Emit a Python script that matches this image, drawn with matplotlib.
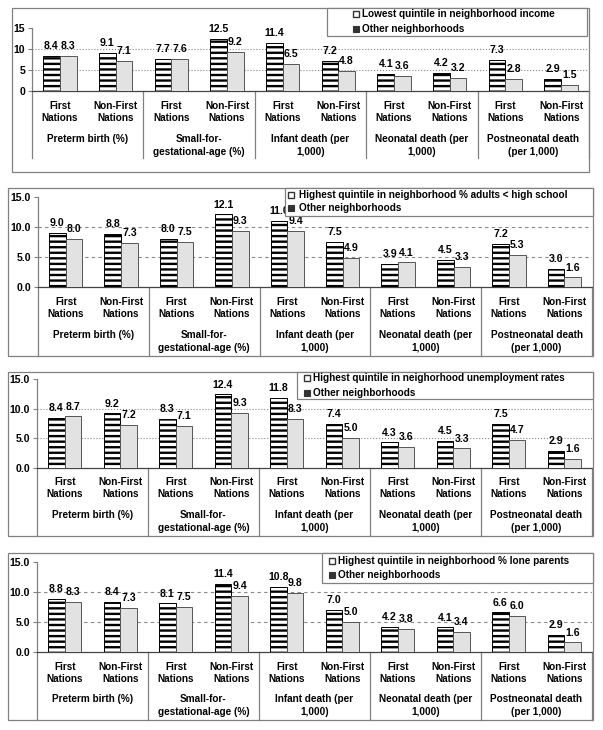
import matplotlib
matplotlib.use("Agg")
import matplotlib.pyplot as plt
import matplotlib.transforms as mtransforms
from matplotlib.patches import Rectangle

# ---- data ----
groups = ["Preterm birth (%)", "Small-for-\ngestational-age (%)",
          "Infant death (per\n1,000)", "Neonatal death (per\n1,000)",
          "Postneonatal death\n(per 1,000)"]
subgroups = ["First\nNations", "Non-First\nNations"]
other_label = "Other neighborhoods"

income_label = "Lowest quintile in neighborhood income"
income_low = [8.4, 9.1, 7.7, 12.5, 11.4, 7.2, 4.1, 4.2, 7.3, 2.9]
income_other = [8.3, 7.1, 7.6, 9.2, 6.5, 4.8, 3.6, 3.2, 2.8, 1.5]

school_label = "Highest quintile in neighborhood % adults < high school"
school_high = [9.0, 8.8, 8.0, 12.1, 11.0, 7.5, 3.9, 4.5, 7.2, 3.0]
school_other = [8.0, 7.3, 7.5, 9.3, 9.4, 4.9, 4.1, 3.3, 5.3, 1.6]

unemp_label = "Highest quintile in neighorhood unemployment rates"
unemp_high = [8.4, 9.2, 8.3, 12.4, 11.8, 7.4, 4.3, 4.5, 7.5, 2.9]
unemp_other = [8.7, 7.2, 7.1, 9.3, 8.3, 5.0, 3.6, 3.3, 4.7, 1.6]

lone_label = "Highest quintile in neighborhood % lone parents"
lone_high = [8.8, 8.4, 8.1, 11.4, 10.8, 7.0, 4.2, 4.1, 6.6, 2.9]
lone_other = [8.3, 7.3, 7.5, 9.4, 9.8, 5.0, 3.8, 3.4, 6.0, 1.6]

yticks = [0, 5, 10, 15]

W, H = 603, 730
plt.rcParams['font.family'] = ['Liberation Sans', 'DejaVu Sans']
plt.rcParams['font.weight'] = 'bold'
plt.rcParams['hatch.linewidth'] = 1.7

fig = plt.figure(figsize=(W / 100, H / 100), dpi=100)


def fx(px):
    return px / W


def fy(py):
    return 1 - py / H


# layout in pixels: frame, axes (x0, x1, y15, y0), tick text y, group text y,
# separator bottom, legend box, legend rows, icon x, text x, grid style, tick fmt
panels = [
    dict(high=income_low, other=income_other, label=income_label,
         frame=(12, 8, 589, 172), ax=(32, 589, 28, 91), tick_y=112, grp_y=134,
         sep_bot=158, leg=(327, 8, 587, 36), rows=(14, 29), icon_x=353, text_x=362,
         grid=':', fmt='{:.0f}'),
    dict(high=school_high, other=school_other, label=school_label,
         frame=(8, 188, 593, 356), ax=(38, 592, 197, 287), tick_y=308, grp_y=330,
         sep_bot=356, leg=(285, 188, 593, 216), rows=(195, 208), icon_x=288, text_x=299,
         grid=(0, (3, 3)), fmt='{:.1f}'),
    dict(high=unemp_high, other=unemp_other, label=unemp_label,
         frame=(8, 372, 593, 536), ax=(37, 592, 379, 468), tick_y=488, grp_y=510,
         sep_bot=536, leg=(297, 372, 593, 399), rows=(378, 393), icon_x=304, text_x=313,
         grid=':', fmt='{:.1f}'),
    dict(high=lone_high, other=lone_other, label=lone_label,
         frame=(8, 553, 593, 720), ax=(37, 592, 562, 652), tick_y=673, grp_y=694,
         sep_bot=720, leg=(322, 553, 593, 583), rows=(561, 575), icon_x=329, text_x=338,
         grid=(0, (3, 3)), fmt='{:.1f}'),
]

n = len(groups) * len(subgroups)
slots = [i + 0.5 for i in range(n)]
bw = 0.3

for p in panels:
    # outer frame
    fx0, fy0, fx1, fy1 = p['frame']
    fig.patches.append(Rectangle((fx(fx0), fy(fy1)), fx(fx1 - fx0), (fy1 - fy0) / H,
                                 transform=fig.transFigure, facecolor='none',
                                 edgecolor='#808080', lw=0.9, zorder=5))

    x0, x1, ytop, ybot = p['ax']
    ax = fig.add_axes([fx(x0), fy(ybot), fx(x1 - x0), (ybot - ytop) / H])
    ax.set_xlim(0, n)
    ax.set_ylim(yticks[0], yticks[-1])
    ax.patch.set_alpha(0)

    ax.bar([s - bw / 2 for s in slots], p['high'], bw, color='white',
           edgecolor='black', hatch='---', lw=0.7, zorder=3)
    ax.bar([s + bw / 2 for s in slots], p['other'], bw, color='#e2e2e2',
           edgecolor='#555555', lw=0.7, zorder=3)

    for s, v in zip(slots, p['high']):
        ax.annotate(f"{v:.1f}", (s - bw / 2, v), xytext=(0, 3.5), textcoords='offset points',
                    ha='center', va='bottom', fontsize=7.6, weight='bold', zorder=4)
    for s, v in zip(slots, p['other']):
        ax.annotate(f"{v:.1f}", (s + bw / 2, v), xytext=(0, 3.5), textcoords='offset points',
                    ha='center', va='bottom', fontsize=7.6, weight='bold', zorder=4)

    for g in yticks[1:-1]:
        ax.axhline(g, color='#888888', lw=0.8, ls=p['grid'], zorder=1)

    ax.set_yticks(yticks)
    ax.set_yticklabels([p['fmt'].format(t) for t in yticks], fontsize=7.6, weight='bold')
    ax.tick_params(axis='y', direction='out', length=3, width=0.8, color='#808080', pad=2)
    ax.set_xticks([])
    for side in ['top', 'right']:
        ax.spines[side].set_visible(False)
    ax.spines['left'].set_color('#808080')
    ax.spines['bottom'].set_color('#444444')
    ax.spines['left'].set_linewidth(0.9)
    ax.spines['bottom'].set_linewidth(0.9)

    trans = mtransforms.blended_transform_factory(ax.transData, fig.transFigure)
    for k in range(len(groups) + 1):
        ax.plot([k * 2, k * 2], [fy(ybot), fy(p['sep_bot'])], transform=trans,
                color='#808080', lw=0.9, clip_on=False)
    for i, s in enumerate(slots):
        ax.text(s, fy(p['tick_y']), subgroups[i % 2], transform=trans, ha='center',
                va='center', fontsize=7.2, weight='bold', linespacing=1.15)
    for k, g in enumerate(groups):
        ax.text(k * 2 + 1, fy(p['grp_y']), g, transform=trans, ha='center',
                va='top', fontsize=7.2, weight='bold', linespacing=1.35)

    # legend box
    lx0, ly0, lx1, ly1 = p['leg']
    fig.patches.append(Rectangle((fx(lx0), fy(ly1)), fx(lx1 - lx0), (ly1 - ly0) / H,
                                 transform=fig.transFigure, facecolor='white',
                                 edgecolor='#808080', lw=0.9, zorder=10))
    r1, r2 = p['rows']
    fig.patches.append(Rectangle((fx(p['icon_x']), fy(r1 + 3)), fx(6), 6 / H,
                                 transform=fig.transFigure, facecolor='white',
                                 edgecolor='#333333', lw=1.0, zorder=11))
    fig.patches.append(Rectangle((fx(p['icon_x']), fy(r2 + 3)), fx(6), 6 / H,
                                 transform=fig.transFigure, facecolor='#333333',
                                 edgecolor='#333333', lw=0.8, zorder=11))
    fig.text(fx(p['text_x']), fy(r1), p['label'], ha='left', va='center',
             fontsize=7.2, weight='bold', zorder=12)
    fig.text(fx(p['text_x']), fy(r2), other_label, ha='left', va='center',
             fontsize=7.2, weight='bold', zorder=12)

fig.savefig("out.png", dpi=100)
